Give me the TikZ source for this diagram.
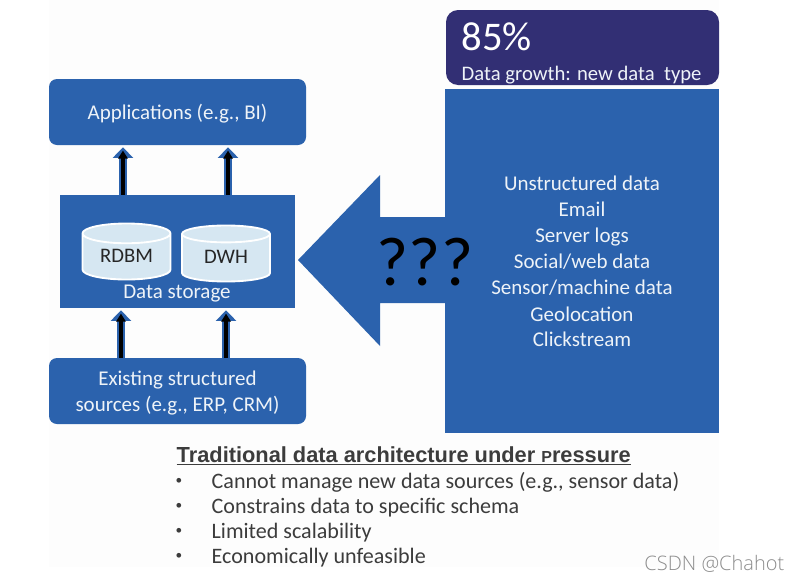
\documentclass[tikz,border=0pt]{standalone}
\usepackage{fontspec}
\setmainfont{Carlito}
\newfontfamily\headfont{Liberation Sans}
\newfontfamily\markfont{Open Sans Light}
\usepackage{tikz}
\usetikzlibrary{arrows.meta, positioning, shapes.geometric}
\definecolor{boxblue}{HTML}{2B62AD}
\definecolor{navybox}{HTML}{322F74}
\definecolor{drumfill}{HTML}{D6E7F2}
\definecolor{notegray}{HTML}{3C3C3C}
\tikzset{
    lightlabel/.style={text=white!92!boxblue, font=\fontsize{15.75}{19.5}\selectfont, align=center},
    blockround/.style={rectangle, fill=boxblue, rounded corners=6pt, minimum width=192.75pt, minimum height=49.5pt},
    drum/.style={cylinder, anchor=shape center, shape border rotate=90, aspect=0.32, draw=white, line width=1.4pt, cylinder uses custom fill, cylinder body fill=drumfill, cylinder end fill=drumfill, minimum width=66pt, minimum height=42pt, text=black!85, text depth=4.5pt, font=\fontsize{15.5}{18}\selectfont},
    upflow/.style={draw=black, line width=3.6pt, shorten >=4pt, -{Triangle[length=6pt, width=7pt]}, preaction={draw=boxblue, line width=6.6pt, shorten >=1.5pt, -{Triangle[length=8pt, width=15pt]}}},
    datalabel/.style={lightlabel, anchor=base},
    notelabel/.style={anchor=west, text=notegray, font=\fontsize{16.55}{19}\selectfont},
    notedot/.style={anchor=center, text=notegray, font=\fontsize{10}{12}\selectfont}
}

\begin{document}
\begin{tikzpicture}[x=0.75pt, y=-0.75pt, >=Stealth]
        \useasboundingbox (0, 0) rectangle (799, 582);
        % Panel behind everything
        \fill[black!0.7] (49, 0) rectangle (719, 567);

        % Left column
        \node[blockround] (apps) at (177.5, 112) {};
        \node[lightlabel] (appslabel) at (177.5, 114) {Applications (e.g., BI)};
        \node[rectangle, fill=boxblue, minimum width=176.25pt, minimum height=84.75pt] (storage) at (177.5, 251.5) {};
        \node[blockround] (sources) at (177.5, 391) {};
        \node[lightlabel] (sourceslabel) at (177.5, 393) {Existing structured\\sources (e.g., ERP, CRM)};
        \node[drum] (rdbm) at (126.5, 251.5) {RDBM};
        \node[drum] (dwh) at (226, 253.5) {DWH};
        \node[lightlabel] (storagelabel) at (177, 294) {Data storage};

        % Right column
        \node[rectangle, fill=navybox, rounded corners=9pt, minimum width=204.75pt, minimum height=56.25pt] (growth) at (582.5, 47.5) {};
        \node[anchor=west, text=white, font=\fontsize{30.5}{33}\selectfont] (share) at (457, 37) {85\%};
        \node[anchor=west, lightlabel, font=\fontsize{15.5}{19}\selectfont] (growthlabel) at (457, 75) {Data growth: new data\ \ type};
        \node[rectangle, fill=boxblue, minimum width=205.5pt, minimum height=258pt] (newdata) at (582, 261) {};
        \node[datalabel] (d1) at (582, 190) {Unstructured data};
        \node[datalabel] (d2) at (582, 216) {Email};
        \node[datalabel] (d3) at (582, 242) {Server logs};
        \node[datalabel] (d4) at (582, 268) {Social/web data};
        \node[datalabel] (d5) at (582, 294) {Sensor/machine data};
        \node[datalabel] (d6) at (582, 321) {Geolocation};
        \node[datalabel] (d7) at (582, 346) {Clickstream};

        % Big arrow
        \fill[boxblue] (446, 217) -- (380, 217) -- (380, 175) -- (298, 260) -- (380, 346) -- (380, 303) -- (446, 303) -- cycle;
        \node[text=black, font=\fontsize{52}{56}\selectfont] (unknown) at (425, 262) {???};

        % Directed edges
        \draw[upflow] ([xshift=-40.9pt]storage.north) -- ([xshift=-40.9pt]apps.south);
        \draw[upflow] ([xshift=37.9pt]storage.north) -- ([xshift=37.9pt]apps.south);
        \draw[upflow] ([xshift=-42.4pt]sources.north) -- ([xshift=-42.4pt]storage.south);
        \draw[upflow] ([xshift=36.4pt]sources.north) -- ([xshift=36.4pt]storage.south);

        % Notes
        \node[anchor=west, text=notegray, font=\headfont\bfseries\fontsize{16.35}{18}\selectfont] (notehead) at (172, 456) {\underline{Traditional data architecture under {\fontsize{12}{18}\selectfont P}ressure}};
        \node[notedot] (b1) at (179, 481) {•};
        \node[notedot] (b2) at (179, 506) {•};
        \node[notedot] (b3) at (179, 531) {•};
        \node[notedot] (b4) at (179, 556) {•};
        \node[notelabel] (n1) at (207, 482) {Cannot manage new data sources (e.g., sensor data)};
        \node[notelabel] (n2) at (207, 508) {Constrains data to specific schema};
        \node[notelabel] (n3) at (207, 533) {Limited scalability};
        \node[notelabel] (n4) at (207, 558) {Economically unfeasible};
        \node[anchor=east, text=black!45, font=\markfont\fontsize{15}{18}\selectfont] (mark) at (789, 564) {CSDN @Chahot};
    \end{tikzpicture}
\end{document}
